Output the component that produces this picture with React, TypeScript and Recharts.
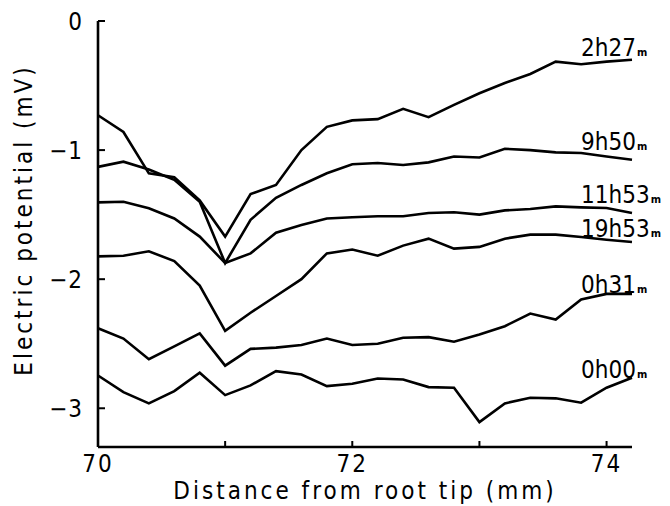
import { LineChart, Line, XAxis, YAxis, LabelList } from 'recharts';

const FONT = "'DejaVu Sans Condensed', 'DejaVu Sans', sans-serif";
const NARROW = { fontStretch: 'condensed' as const };

// distance from root tip (mm)
const distances = [
  70, 70.2, 70.4, 70.6, 70.8, 71, 71.2, 71.4, 71.6, 71.8, 72,
  72.2, 72.4, 72.6, 72.8, 73, 73.2, 73.4, 73.6, 73.8, 74, 74.2,
];

// electric potential (mV) per recording time
const t2h27 = [
  -0.73, -0.86, -1.18, -1.21, -1.39, -1.67, -1.34, -1.27, -1.0, -0.82, -0.77,
  -0.76, -0.68, -0.745, -0.65, -0.56, -0.48, -0.41, -0.315, -0.335, -0.315, -0.3,
];
const t9h50 = [
  -1.13, -1.09, -1.15, -1.23, -1.4, -1.875, -1.54, -1.37, -1.27, -1.18, -1.11,
  -1.1, -1.115, -1.095, -1.05, -1.057, -0.99, -1.0, -1.018, -1.023, -1.05, -1.075,
];
const t11h53 = [
  -1.405, -1.4, -1.45, -1.53, -1.67, -1.875, -1.8, -1.64, -1.58, -1.53, -1.52,
  -1.513, -1.513, -1.487, -1.482, -1.5, -1.467, -1.456, -1.436, -1.444, -1.449, -1.487,
];
const t19h53 = [
  -1.823, -1.818, -1.784, -1.86, -2.05, -2.4, -2.26, -2.13, -2.0, -1.8, -1.77,
  -1.818, -1.74, -1.686, -1.763, -1.75, -1.686, -1.655, -1.655, -1.673, -1.694, -1.712,
];
const t0h31 = [
  -2.38, -2.46, -2.62, -2.52, -2.42, -2.67, -2.54, -2.53, -2.51, -2.46, -2.51,
  -2.5, -2.454, -2.449, -2.485, -2.428, -2.364, -2.266, -2.313, -2.158, -2.114, -2.114,
];
const t0h00 = [
  -2.746, -2.875, -2.962, -2.867, -2.725, -2.898, -2.823, -2.712, -2.738, -2.828, -2.81,
  -2.769, -2.777, -2.836, -2.841, -3.107, -2.962, -2.918, -2.923, -2.957, -2.841, -2.764,
];

const seriesLabels = ['2h27', '9h50', '11h53', '19h53', '0h31', '0h00'];
const seriesValues = [t2h27, t9h50, t11h53, t19h53, t0h31, t0h00];
// label baseline offset from the line end, px
const labelLift = [-4, -10, -10, -5, -1, 0];

const xTicks = [70, 71, 72, 73, 74];
const yTicks = [0, -1, -2, -3];

const data = distances.map((d, i) => {
  const row: Record<string, number> = { x: d };
  seriesValues.forEach((vals, s) => {
    row['s' + s] = vals[i];
  });
  return row;
});

function endLabel(s: number) {
  return (props: any) => {
    const { x, y, index } = props;
    if (index !== distances.length - 1) return null;
    return (
      <text
        x={x - 51}
        y={y + labelLift[s]}
        fontFamily={FONT}
        fontSize={24}
        style={NARROW}
        fill="#000"
      >
        {seriesLabels[s]}
        <tspan fontSize={11} fontWeight="bold" dx={1}>m</tspan>
      </text>
    );
  };
}

export default function App() {
  return (
    <div style={{ position: 'absolute', left: 0, top: 0, background: '#fff' }}>
      <LineChart
        width={670}
        height={506}
        data={data}
        margin={{ top: 21, right: 38, bottom: 0, left: 0 }}
      >
        <XAxis
          dataKey="x"
          type="number"
          domain={[70, 74.2]}
          ticks={xTicks}
          tickFormatter={(v: number) => (v % 2 === 0 ? String(v) : '')}
          height={59}
          tickSize={-6}
          tickMargin={14}
          axisLine={{ stroke: '#000', strokeWidth: 2.6 }}
          tickLine={{ stroke: '#000', strokeWidth: 2 }}
          tick={{ fill: '#000', fontSize: 24, fontFamily: FONT, letterSpacing: 2, style: NARROW }}
          label={{
            content: (p: any) => {
              const vb = p.viewBox;
              return (
                <text
                  x={vb.x + vb.width / 2}
                  y={vb.y + 52}
                  textAnchor="middle"
                  fontFamily={FONT}
                  fontSize={24}
                  letterSpacing={3}
                  style={NARROW}
                  fill="#000"
                >
                  Distance from root tip (mm)
                </text>
              );
            },
          }}
        />
        <YAxis
          type="number"
          domain={[-3.3, 0]}
          ticks={yTicks}
          width={98}
          tickSize={-7}
          tickMargin={22}
          tickFormatter={(v: number) => (v < 0 ? '\u2212' + Math.abs(v) : String(v))}
          axisLine={{ stroke: '#000', strokeWidth: 2.6 }}
          tickLine={{ stroke: '#000', strokeWidth: 2 }}
          tick={{ fill: '#000', fontSize: 24, fontFamily: FONT, letterSpacing: 1, style: NARROW }}
          label={{
            content: (p: any) => {
              const vb = p.viewBox;
              const cx = 24;
              const cy = vb.y + vb.height / 2 - 14;
              return (
                <text
                  x={cx}
                  y={cy}
                  transform={`rotate(-90, ${cx}, ${cy})`}
                  textAnchor="middle"
                  dominantBaseline="central"
                  fontFamily={FONT}
                  fontSize={24}
                  letterSpacing={3}
                  style={NARROW}
                  fill="#000"
                >
                  Electric potential (mV)
                </text>
              );
            },
          }}
        />
        {seriesValues.map((_, s) => (
          <Line
            key={s}
            dataKey={'s' + s}
            type="linear"
            stroke="#000"
            strokeWidth={2.6}
            dot={false}
            isAnimationActive={false}
          >
            <LabelList dataKey={'s' + s} content={endLabel(s)} />
          </Line>
        ))}
      </LineChart>
    </div>
  );
}
